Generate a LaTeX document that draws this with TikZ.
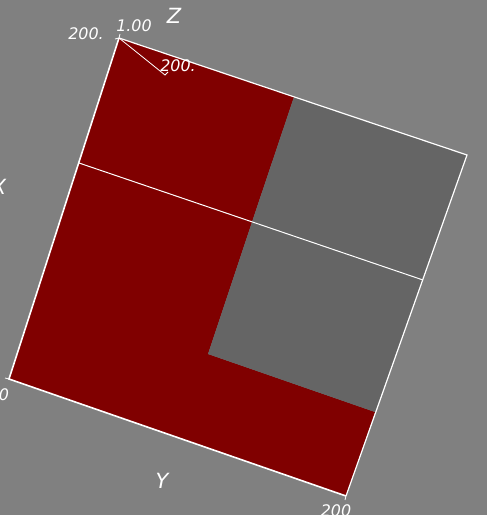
\documentclass[tikz,border=0pt]{standalone}
\usepackage{fontspec}
\setmainfont{DejaVu Sans}
\usepackage{tikz}
\usetikzlibrary{positioning}
\definecolor{PlotBack}{RGB}{128,128,128}
\definecolor{FaceRed}{RGB}{128,0,0}
\definecolor{FaceGray}{RGB}{101,101,101}

\begin{document}
\begin{tikzpicture}[
    x=1bp, y=-1bp,
    edge/.style={draw=white, line width=1.6bp},
    grid/.style={draw=white, line width=1bp},
    axlbl/.style={text=white, font=\fontsize{21}{21}\selectfont\itshape, inner sep=0pt},
    ticklbl/.style={text=white, font=\fontsize{16}{16}\selectfont\itshape, inner sep=0pt},
]
\fill[PlotBack] (0,0) rectangle (487,515);
\useasboundingbox (0,0) rectangle (487,515);

% corners of the face
\coordinate (a) at (119,38);
\coordinate (b) at (9,379);
\coordinate (c) at (346,496);
\coordinate (d) at (467,155);
% inner points
\coordinate (p) at (294,97);
\coordinate (l) at (79,163);
\coordinate (r) at (423,280);
\coordinate (m) at (252,222);
\coordinate (k) at (208,354);
\coordinate (s) at (375,412);
\coordinate (t) at (165,75);

\fill[FaceRed] (a) -- (p) -- (m) -- (k) -- (s) -- (c) -- (b) -- cycle;
\fill[FaceGray] (p) -- (d) -- (r) -- (s) -- (k) -- (m) -- cycle;

\draw[grid] (l) -- (r);
\draw[edge, line width=1.2bp] (a) -- (d) -- (c);
\draw[edge] (c) -- (b) -- (a);

% axis ticks
\draw[white, line width=0.8bp] (a) -- (t) -- ++(3,-3);
\draw[white, line width=0.8bp] (a) -- ++(-4,1);
\draw[white, line width=0.8bp] (a) -- ++(1,-4);
\draw[white, line width=0.8bp] (b) -- ++(-4,-1);
\draw[white, line width=0.8bp] (c) -- ++(-1,4);

\node[axlbl] (zlbl) at (174,16) {Z};
\node[axlbl] (xlbl) at (-1,187) {X};
\node[axlbl] (ylbl) at (162,481) {Y};
\node[ticklbl] (zmax) at (86,34) {200.};
\node[ticklbl] (zone) at (134,26) {1.00};
\node[ticklbl] (xmax) at (178,66) {200.};
\node[ticklbl] (yzero) at (4,395) {0};
\node[ticklbl] (ymax) at (336,511) {200};
\end{tikzpicture}
\end{document}
